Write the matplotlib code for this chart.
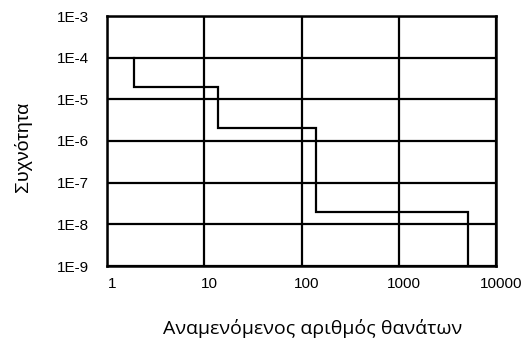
import numpy as np
import matplotlib.pyplot as plt
from matplotlib.transforms import ScaledTranslation

# step curve (F-N style): expected deaths vs frequency
deaths = [1.9, 1.9, 14, 14, 140, 140, 5100, 5100]
freq = [1e-4, 2e-5, 2e-5, 2e-6, 2e-6, 2e-8, 2e-8, 1e-9]

x_ticks = [1, 10, 100, 1000, 10000]
x_labels = ["1", "10", "100", "1000", "10000"]
y_ticks = [1e-9, 1e-8, 1e-7, 1e-6, 1e-5, 1e-4, 1e-3]
y_labels = ["1E-9", "1E-8", "1E-7", "1E-6", "1E-5", "1E-4", "1E-3"]

plt.rcParams['font.family'] = ['Liberation Sans', 'DejaVu Sans']

fig = plt.figure(figsize=(5.29, 3.42), dpi=100)
ax = fig.add_axes([107 / 529, 1 - 266 / 342, 389 / 529, 250 / 342])

ax.plot(deaths, freq, color='black', linewidth=1.6, solid_joinstyle='miter')
ax.set_xscale('log')
ax.set_yscale('log')
ax.set_xlim(1, 10000)
ax.set_ylim(1e-9, 1e-3)

ax.set_xticks(x_ticks)
ax.set_xticklabels(x_labels, fontsize=11)
ax.set_yticks(y_ticks)
ax.set_yticklabels(y_labels, fontsize=11)
ax.minorticks_off()
ax.tick_params(length=0, pad=8, axis='x')
ax.tick_params(length=0, pad=13, axis='y')

# shift x labels a bit to the right like the original
for lbl in ax.get_xticklabels():
    lbl.set_transform(lbl.get_transform() + ScaledTranslation(5 / 100, 0, fig.dpi_scale_trans))

ax.grid(True, which='major', color='black', linewidth=1.6)
for s in ax.spines.values():
    s.set_linewidth(1.8)

fig.text(313 / 529, 1 - 328 / 342, "Αναμενόμενος αριθμός θανάτων",
         ha='center', va='center', fontsize=14, family=['Open Sans', 'DejaVu Sans'])
fig.text(23 / 529, 1 - 147 / 342, "Συχνότητα", rotation=90,
         ha='center', va='center', fontsize=14)

fig.savefig("out.png", dpi=100)
